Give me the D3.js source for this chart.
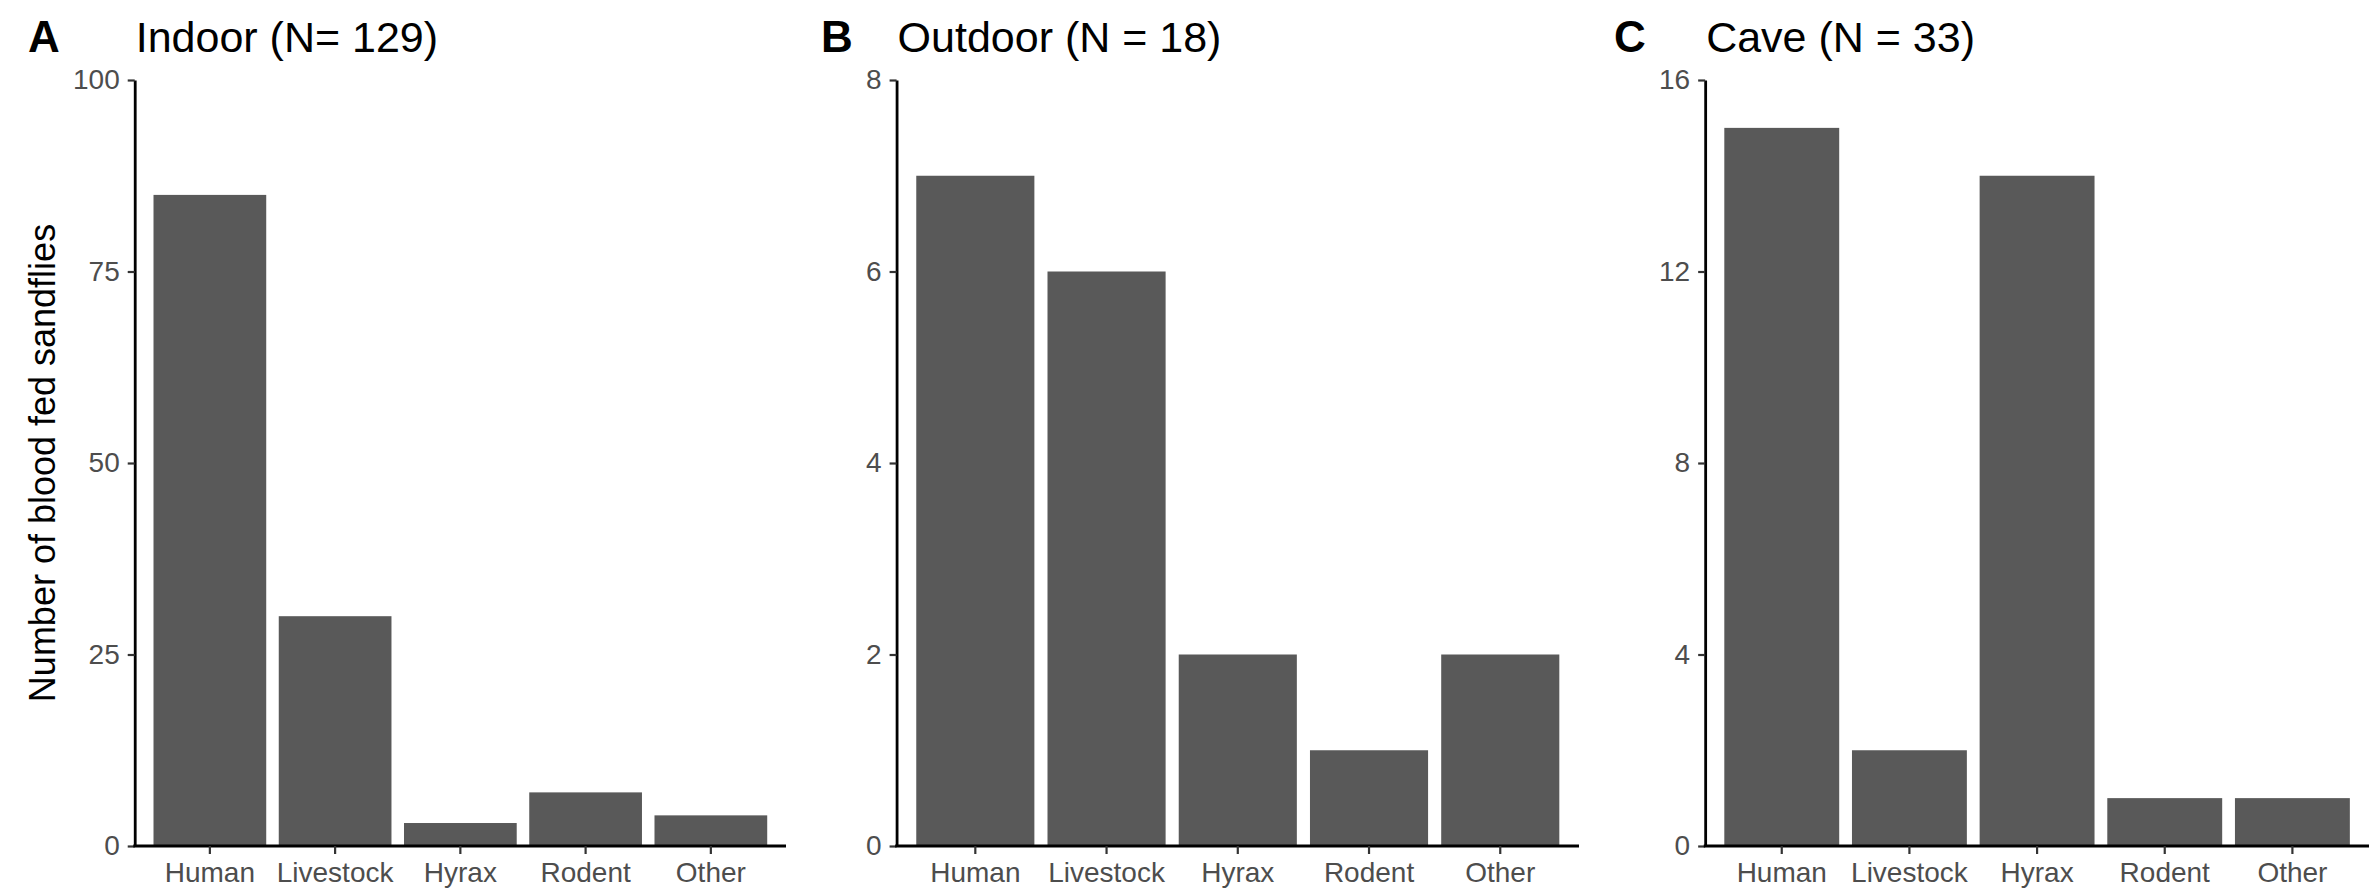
<!DOCTYPE html>
<html>
<head>
<meta charset="utf-8">
<script src="https://cdn.jsdelivr.net/npm/d3@7"></script>
<style>
  body { margin: 0; background: #fff; }
  svg { display: block; font-family: "Liberation Sans", Arial, sans-serif; }
</style>
</head>
<body>
<svg id="chart" width="2370" height="894"></svg>
<script>
// data
const categories = ["Human", "Livestock", "Hyrax", "Rodent", "Other"]
const indoorCounts = [85, 30, 3, 7, 4]
const outdoorCounts = [7, 6, 2, 1, 2]
const caveCounts = [15, 2, 14, 1, 1]
const panelTags = ["A", "B", "C"]
const panelTitles = ["Indoor (N= 129)", "Outdoor (N = 18)", "Cave (N = 33)"]
const yTickValues = [[0, 25, 50, 75, 100], [0, 2, 4, 6, 8], [0, 4, 8, 12, 16]]
const yLabel = "Number of blood fed sandflies"

const series = [indoorCounts, outdoorCounts, caveCounts]

const svg = d3.select("#chart")
const panelW = 793
const plotTop = 80, plotBottom = 846
const tickFont = 28

// measure widest tick label so the plot area starts after it (like ggplot)
function textWidth(str) {
  const t = svg.append("text").style("font-size", tickFont + "px").text(str)
  const w = t.node().getComputedTextLength()
  t.remove()
  return w
}

series.forEach((values, p) => {
  const offset = p * panelW
  const ticks = yTickValues[p]
  const labelW = d3.max(ticks, d => textWidth(String(d)))
  const left = offset + 73 + labelW + 15
  const right = Math.min(offset + 786, 2369)

  const x = d3.scaleBand()
    .domain(categories)
    .range([left, right])
    .paddingInner(0.1)
    .paddingOuter(0.15)

  const y = d3.scaleLinear()
    .domain([0, d3.max(ticks)])
    .range([plotBottom, plotTop])

  const g = svg.append("g")

  g.selectAll("rect.bar")
    .data(values)
    .enter().append("rect")
    .attr("class", "bar")
    .attr("x", (d, i) => x(categories[i]))
    .attr("width", x.bandwidth())
    .attr("y", d => y(d))
    .attr("height", d => y(0) - y(d))
    .attr("fill", "#595959")

  // y axis
  const yAxis = g.append("g")
    .attr("transform", `translate(${left},0)`)
    .call(d3.axisLeft(y).tickValues(ticks).tickSize(7).tickSizeOuter(0).tickPadding(8))
  yAxis.select(".domain").attr("stroke", "#000").attr("stroke-width", 2.8)
  yAxis.selectAll(".tick line").attr("stroke", "#333").attr("stroke-width", 2.2)
  yAxis.selectAll(".tick text")
    .style("font-size", tickFont + "px")
    .attr("fill", "#4d4d4d")

  // x axis
  const xAxis = g.append("g")
    .attr("transform", `translate(0,${plotBottom})`)
    .call(d3.axisBottom(x).tickSize(8).tickSizeOuter(0).tickPadding(8))
  xAxis.select(".domain").attr("stroke", "#000").attr("stroke-width", 2.8)
    .attr("d", `M${left - 1.4},0H${right}`)
  xAxis.selectAll(".tick line").attr("stroke", "#333").attr("stroke-width", 2.2)
  xAxis.selectAll(".tick text")
    .style("font-size", tickFont + "px")
    .attr("fill", "#4d4d4d")

  // tag and title
  g.append("text")
    .attr("x", offset + 28)
    .attr("y", 52)
    .style("font-size", "44px")
    .style("font-weight", "bold")
    .text(panelTags[p])

  g.append("text")
    .attr("x", left + 1)
    .attr("y", 52)
    .style("font-size", "43px")
    .text(panelTitles[p])

  if (p === 0) {
    g.append("text")
      .attr("transform", `translate(55,${(plotTop + plotBottom) / 2}) rotate(-90)`)
      .attr("text-anchor", "middle")
      .style("font-size", "36px")
      .text(yLabel)
  }
})
</script>
</body>
</html>
